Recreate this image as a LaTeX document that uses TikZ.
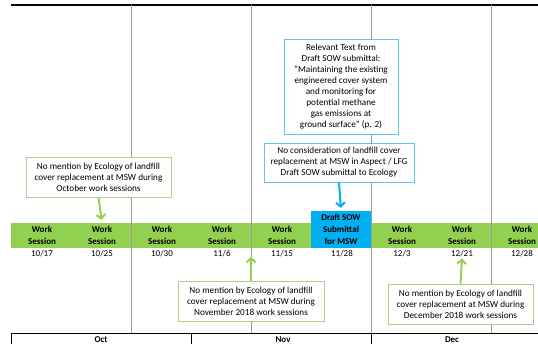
\documentclass[tikz,border=0pt]{standalone}
\usepackage{fontspec}
\setmainfont{Carlito}
\usetikzlibrary{positioning, arrows.meta}

\definecolor{barGreen}{HTML}{92D050}
\definecolor{sowBlue}{HTML}{00B0F0}
\definecolor{noteGreen}{HTML}{A9D18E}
\definecolor{noteBlue}{HTML}{5CC6EE}
\definecolor{gridGray}{HTML}{9A9A9A}

\begin{document}
\begin{tikzpicture}[x=1pt, y=-1pt,
    note/.style={draw, fill=white, line width=0.8pt, align=center,
      inner sep=0pt, font=\fontsize{9.2}{11}\selectfont},
    greennote/.style={note, draw=noteGreen, minimum width=145, minimum height=40},
    bluenote/.style={note, draw=noteBlue},
    session/.style={align=center, inner sep=0pt, minimum height=25,
      font=\fontsize{9}{12}\selectfont\bfseries},
    datelbl/.style={inner sep=1pt, font=\fontsize{9}{11}\selectfont},
    month/.style={inner sep=0pt, font=\fontsize{9}{11}\selectfont\bfseries},
    greenarrow/.style={-{Straight Barb[length=4pt, width=9pt]}, line width=2pt, barGreen},
    bluearrow/.style={-{Straight Barb[length=4pt, width=9pt]}, line width=2pt, sowBlue}]
    \useasboundingbox (0,0) rectangle (538,344);

    % Top rule
    \draw[line width=1.5pt] (11,5) -- (538,5);

    % Green session bar
    \fill[barGreen] (11,223) rectangle (538,248);

    % Week grid lines
    \foreach \gx in {131,251,371,491}
        \draw[gridGray, line width=0.7pt] (\gx,5) -- (\gx,333);

    % Work sessions and dates
    \foreach \i in {1,2,3,4,5,7,8,9}
        \node[session] (ws\i) at ({-18+60*\i},235.5) {Work\\Session};
    \node[session, fill=sowBlue, minimum width=60, minimum height=37]
        (ws6) at (341,229.5) {Draft SOW\\Submittal\\for MSW};
    \foreach \dt [count=\i] in {{10/17},{10/25},{10/30},{11/6},{11/15},{11/28},{12/3},{12/21},{12/28}}
        \node[datelbl] (date\i) at ({-18+60*\i},254) {\dt};

    % Month bar
    \draw[line width=0.8pt] (11,333) -- (538,333);
    \draw[line width=0.8pt] (11,333) -- (11,344);
    \draw[line width=0.8pt] (191,333) -- (191,344);
    \draw[line width=0.8pt] (371,333) -- (371,344);
    \node[month] (oct) at (101,339.5) {Oct};
    \node[month] (nov) at (283,339.5) {Nov};
    \node[month] (dec) at (452,339.5) {Dec};

    % Draft SOW callouts
    \node[bluenote, minimum width=114, minimum height=95] (quote) at (341,86.5)
        {Relevant Text from\\Draft SOW submittal:\\"Maintaining the existing\\engineered cover system\\and monitoring for\\potential methane\\gas emissions at\\ground surface" (p. 2)};
    \node[bluenote, minimum width=150, minimum height=39] (sownote) at (339,162.5)
        {No consideration of landfill cover\\replacement at MSW in Aspect / LFG\\Draft SOW submittal to Ecology};
    \draw[bluearrow, shorten >=3pt] (sownote.south) -- (ws6.north);

    % Ecology callouts
    \node[greennote] (octnote) at (98.5,177)
        {No mention by Ecology of landfill\\cover replacement at MSW during\\October work sessions};
    \draw[greenarrow, shorten >=3pt] (octnote.south) -- (ws2.north);

    \node[greennote, minimum width=146] (novnote) at (251,301)
        {No mention by Ecology of landfill\\cover replacement at MSW during\\November 2018 work sessions};
    \coordinate (novtip) at (251,257);
    \draw[greenarrow] (novnote.north) -- (novtip);

    \node[greennote] (decnote) at (460.5,304)
        {No mention by Ecology of landfill\\cover replacement at MSW during\\December 2018 work sessions};
    \draw[greenarrow] (decnote.north) -- (date8.south);
\end{tikzpicture}
\end{document}
